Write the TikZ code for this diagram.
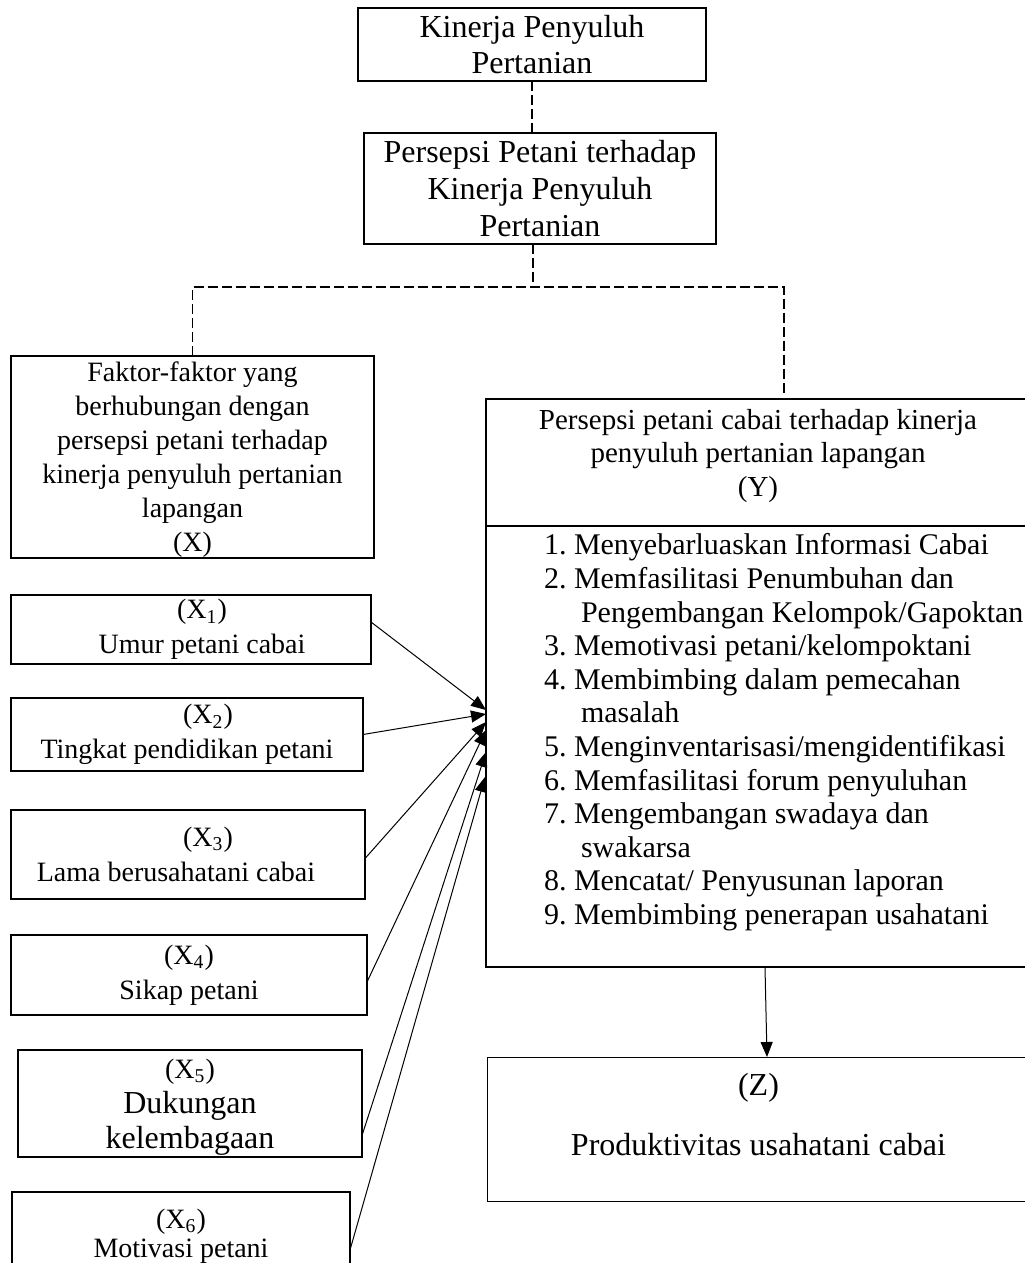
\documentclass[tikz,border=0pt]{standalone}
\usepackage{fontspec}
\setmainfont{Liberation Serif}
\usetikzlibrary{arrows.meta}

\begin{document}
\begin{tikzpicture}[x=.5pt,y=-.5pt,inner sep=0pt,outer sep=0pt,
>={Triangle[length=7.5pt,width=6pt]},
box/.style={draw,rectangle,line width=.8pt,align=center},
big/.style={font=\fontsize{16}{18.4}\selectfont},
small/.style={font=\fontsize{14}{17.5}\selectfont},
link/.style={line width=.8pt,dash pattern=on 5pt off 2pt},
arr/.style={->,line width=.5pt}]
\useasboundingbox (0,0) rectangle (1024,1263);

% upper part
\draw (532,44.5) node[box,big,minimum width=174pt,minimum height=36.5pt] (kin) {Kinerja Penyuluh\\Pertanian};
\draw (540,188.5) node[box,big,minimum width=176pt,minimum height=55.5pt] (pers) {Persepsi Petani terhadap\\Kinerja Penyuluh\\Pertanian};
\draw (192.5,457) node[box,font=\fontsize{14}{17}\selectfont,minimum width=181.5pt,minimum height=101pt,text depth=-4pt] (xbox)
  {Faktor-faktor yang\\berhubungan dengan\\persepsi petani terhadap\\kinerja penyuluh pertanian\\lapangan\\(X)};

% Y box with header and list
\draw (758,683) node[box,minimum width=272pt,minimum height=284pt] (ybox) {};
\draw (ybox.west |- 0,526) coordinate (ysplitl) (ybox.east |- 0,526) coordinate (ysplitr);
\draw[line width=.8pt] (ysplitl) -- (ysplitr);
\draw (758,456) node[align=center,font=\fontsize{14.5}{16.75}\selectfont] (yhead)
  {Persepsi petani cabai terhadap kinerja\\penyuluh pertanian lapangan\\(Y)};
\draw (544,733) node[anchor=west,font=\fontsize{15}{16.8}\selectfont] (ylist) {%
\begin{tabular}{@{}l@{\hspace{3.75pt}}l@{}}
1. & Menyebarluaskan Informasi Cabai\\
2. & Memfasilitasi Penumbuhan dan\\
   & \hspace*{3.5pt}Pengembangan Kelompok/Gapoktan\\
3. & Memotivasi petani/kelompoktani\\
4. & Membimbing dalam pemecahan\\
   & \hspace*{3.5pt}masalah\\
5. & Menginventarisasi/mengidentifikasi\\
6. & Memfasilitasi forum penyuluhan\\
7. & Mengembangan swadaya dan\\
   & \hspace*{3.5pt}swakarsa\\
8. & Mencatat/ Penyusunan laporan\\
9. & Membimbing penerapan usahatani
\end{tabular}};

\draw (758.5,1129) node[box,big,line width=.4pt,minimum width=271.5pt,minimum height=72pt,text depth=14.5pt] (z)
  {(Z)\\[11.6pt]Produktivitas usahatani cabai};

% factors
\draw (191,629.5) node[box,small,minimum width=180pt,minimum height=34.5pt] (x1) {\hspace*{11pt}(X\textsubscript{1})\\\hspace*{11pt}Umur petani cabai};
\draw (187,734.5) node[box,small,minimum width=176pt,minimum height=36.5pt] (x2) {\hspace*{21pt}(X\textsubscript{2})\\Tingkat pendidikan petani};
\draw (188,854.5) node[box,small,minimum width=177pt,minimum height=44.5pt] (x3) {\hspace*{20pt}(X\textsubscript{3})\\\hspace*{-12pt}Lama berusahatani cabai};
\draw (189,975) node[box,small,minimum width=178pt,minimum height=40pt] (x4) {(X\textsubscript{4})\\Sikap petani};
\draw (190,1103.5) node[box,small,minimum width=172pt,minimum height=53.5pt,text depth=-3pt] (x5)
  {(X\textsubscript{5})\\{\fontsize{16}{17.5}\selectfont Dukungan}\\{\fontsize{16}{17.5}\selectfont kelembagaan}};
\draw (181,1236) node[box,font=\fontsize{14}{14.5}\selectfont,minimum width=169pt,minimum height=44pt] (x6) {(X\textsubscript{6})\\Motivasi petani};

\coordinate (in1) at (486,710);
\coordinate (in2) at (486,714);
\coordinate (in3) at (486,722);
\coordinate (in4) at (486,730);
\coordinate (in5) at (486,752);
\coordinate (in6) at (485,777);
\coordinate (split) at (533,287);

\draw[link] (kin.south) -- (kin.south |- pers.north);
\draw[link] (pers.south -| split) -- (split);
\draw[link] (xbox.north) |- (split) -| ([xshift=13pt,yshift=2pt]ybox.north);

\draw[arr] ([yshift=3.75pt]x1.east) -- (in1);
\draw[arr] (x2.east) -- (in2);
\draw[arr] ([yshift=-2pt]x3.east) -- (in3);
\draw[arr] ([yshift=-3.5pt]x4.east) -- (in4);
\draw[arr] ([yshift=-16pt]x5.east) -- (in5);
\draw[arr] ([yshift=-7pt]x6.east) -- (in6);
\draw[arr] ([xshift=3.5pt]ybox.south) -- ([xshift=4.25pt]z.north);
\end{tikzpicture}
\end{document}
